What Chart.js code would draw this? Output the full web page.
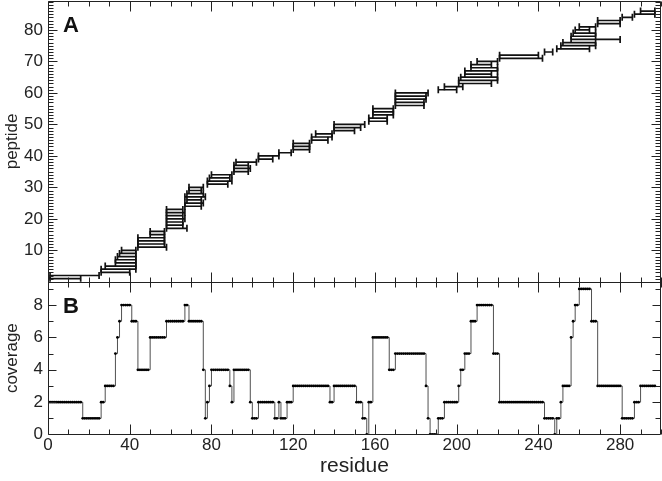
<!DOCTYPE html>
<html>
<head>
<meta charset="utf-8">
<script src="https://cdn.jsdelivr.net/npm/chart.js@4.4.1/dist/chart.umd.min.js"></script>
<style>
  html, body { margin: 0; padding: 0; background: #fff; }
</style>
</head>
<body>
<canvas id="chart" width="662" height="481"></canvas>
<script>
// panel A: one peptide per row, first and last residue
const pepStart = [1, 1,
    26, 26, 28, 33, 33, 34, 35, 36,
    44, 44, 44, 44, 50, 50,
    58, 58, 58, 58, 58, 58, 58,
    67, 67, 68, 67, 68, 69, 69,
    78, 78, 79, 80,
    91, 91, 91, 92,
    103, 103, 113,
    120, 120, 120,
    129, 129, 131,
    140, 140, 140,
    157, 157, 159, 159, 159,
    170, 170, 170, 170, 170,
    191, 194,
    201, 201, 202, 204, 204, 207, 207, 210,
    221, 221, 243,
    249, 251, 252, 256, 256, 257, 258, 260,
    269, 269,
    281, 287, 290];
const pepEnd = [16, 25,
    40, 43, 43, 43, 43, 43, 43, 43,
    58, 57, 57, 57, 57, 57,
    68, 66, 66, 67, 66, 67, 66,
    75, 76, 75, 77, 76, 75, 76,
    88, 90, 89, 90,
    98, 99, 98, 102,
    110, 113, 119,
    128, 128, 128,
    137, 139, 139,
    150, 153, 155,
    166, 166, 169, 169, 169,
    184, 184, 185, 185, 186,
    200, 203,
    217, 220, 220, 217, 220, 220, 217, 220,
    242, 240, 247,
    265, 268, 268, 280, 268, 268, 265, 268,
    280, 280,
    286, 297, 297];

// panel B: coverage, as runs (first residue of run, value)
const covRunStart = [1, 17, 26, 28, 33, 34, 35, 36, 41, 44, 50, 58, 67, 69, 76, 77, 78, 79, 80, 89, 90, 91,
    99, 100, 103, 111, 113, 114, 117, 120, 138, 140, 151, 154, 156, 157, 159, 167, 170, 185, 186, 187,
    191, 194, 201, 202, 204, 207, 210, 218, 221, 243, 248, 249, 251, 252, 256, 257, 258, 260, 266, 269,
    281, 287, 290];
const covRunValue = [2, 1, 2, 3, 5, 6, 7, 8, 7, 4, 6, 7, 8, 7, 4, 1, 2, 3, 4, 3, 2, 4,
    2, 1, 2, 1, 2, 1, 2, 3, 2, 3, 2, 1, 0, 2, 6, 4, 5, 3, 1, 0,
    1, 2, 3, 4, 5, 7, 8, 5, 2, 1, 0, 1, 2, 3, 6, 7, 8, 9, 7, 3,
    1, 2, 3];
const lastResidue = 297;

const pepData = [];
pepStart.forEach((s, i) => {
    pepData.push({x: s, y: i + 1}, {x: pepEnd[i], y: i + 1}, {x: pepEnd[i], y: null});
});

const covData = [];
covRunStart.forEach((s, i) => {
    const e = i + 1 < covRunStart.length ? covRunStart[i + 1] - 1 : lastResidue;
    for (let r = s; r <= e; r++) covData.push({x: r, y: covRunValue[i]});
});

const FONT = "'Liberation Sans', Arial, Helvetica, sans-serif";
const INK = '#222';

// inward ticks and panel frames, placed with the chart's own scales
const frameTicks = {
    id: 'frameTicks',
    afterDatasetsDraw(chart) {
        const {ctx, chartArea: a, scales} = chart;
        const x = scales.x, yp = scales.yPep, yc = scales.yCov;
        const mid = Math.round(yp.bottom) + 0.5;
        const L = Math.round(a.left) + 0.5, R = Math.round(a.right) - 0.5;
        const T = Math.round(a.top) + 0.5, B = Math.round(a.bottom) - 0.5;
        ctx.save();
        ctx.strokeStyle = INK;
        ctx.lineWidth = 1;
        ctx.beginPath();
        ctx.rect(L, T, R - L, B - T);
        ctx.moveTo(L, mid);
        ctx.lineTo(R, mid);
        for (let v = 0; v <= 300; v += 10) {
            const px = Math.round(x.getPixelForValue(v)) + 0.5;
            const len = v % 40 === 0 ? 10 : 5;
            ctx.moveTo(px, T); ctx.lineTo(px, T + len);
            ctx.moveTo(px, mid - len); ctx.lineTo(px, mid + len);
            ctx.moveTo(px, B - len); ctx.lineTo(px, B);
        }
        for (let v = 1; v <= 89; v++) {
            const py = Math.round(yp.getPixelForValue(v)) + 0.5;
            const len = v % 10 === 0 ? 9 : 5;
            ctx.moveTo(L, py); ctx.lineTo(L + len, py);
            ctx.moveTo(R - len, py); ctx.lineTo(R, py);
        }
        for (let v = 1; v <= 9; v++) {
            const py = Math.round(yc.getPixelForValue(v)) + 0.5;
            const len = v % 2 === 0 ? 8 : 5;
            ctx.moveTo(L, py); ctx.lineTo(L + len, py);
            ctx.moveTo(R - len, py); ctx.lineTo(R, py);
        }
        ctx.stroke();

        ctx.fillStyle = '#111';
        ctx.font = 'bold 22px ' + FONT;
        ctx.textBaseline = 'alphabetic';
        ctx.fillText('A', a.left + 15, yp.top + 31);
        ctx.fillText('B', a.left + 15, yc.top + 31.5);
        ctx.restore();
    }
};

const tickFont = {family: FONT, size: 17};
const titleFont = {family: FONT, size: 17};

const fitY = (s) => {
    s.width = 48;
    s.paddingTop = 0;
    s.paddingBottom = 0;
};

new Chart(document.getElementById('chart'), {
    type: 'line',
    data: {
        datasets: [
            {
                data: pepData,
                xAxisID: 'x',
                yAxisID: 'yPep',
                borderColor: '#111',
                borderWidth: 1.7,
                spanGaps: false,
                pointStyle: 'line',
                pointRotation: 90,
                pointRadius: 3.5,
                pointBorderWidth: 1.7,
                pointBorderColor: '#111',
            },
            {
                data: covData,
                xAxisID: 'x',
                yAxisID: 'yCov',
                stepped: true,
                borderColor: '#505050',
                borderWidth: 1,
                pointRadius: 1.4,
                pointBorderWidth: 0,
                pointBackgroundColor: '#000',
            },
        ],
    },
    options: {
        responsive: false,
        animation: false,
        events: [],
        layout: {autoPadding: false, padding: {top: 1, right: 1, left: 0, bottom: 0}},
        plugins: {legend: {display: false}, tooltip: {enabled: false}},
        scales: {
            x: {
                type: 'linear',
                min: 0,
                max: 300,
                grid: {display: false, drawTicks: false},
                border: {display: false},
                ticks: {stepSize: 40, autoSkip: false, includeBounds: false, maxRotation: 0, color: INK, font: tickFont, padding: 1},
                title: {display: true, text: 'residue', color: INK, font: {family: FONT, size: 21}, padding: {top: 0, bottom: 2}},
                afterFit: (s) => {
                    s.height = 46.5;
                    s.paddingLeft = 0;
                    s.paddingRight = 0;
                },
            },
            yCov: {
                type: 'linear',
                position: 'left',
                stack: 'panels',
                stackWeight: 152.7,
                min: 0,
                max: 9.44,
                grid: {display: false, drawTicks: false},
                border: {display: false},
                ticks: {stepSize: 2, autoSkip: false, includeBounds: false, color: INK, font: tickFont, padding: 5},
                title: {display: true, text: 'coverage', color: INK, font: titleFont, padding: {top: 2, bottom: 0}},
                afterFit: fitY,
            },
            yPep: {
                type: 'linear',
                position: 'left',
                stack: 'panels',
                stackWeight: 280.8,
                min: 0,
                max: 89.2,
                grid: {display: false, drawTicks: false},
                border: {display: false},
                ticks: {
                    stepSize: 10, autoSkip: false, includeBounds: false, color: INK, font: tickFont, padding: 5,
                    callback: (v) => (v === 0 ? '' : v),
                },
                title: {display: true, text: 'peptide', color: INK, font: titleFont, padding: {top: 2, bottom: 0}},
                afterFit: fitY,
            },
        },
    },
    plugins: [frameTicks],
});
</script>
</body>
</html>
